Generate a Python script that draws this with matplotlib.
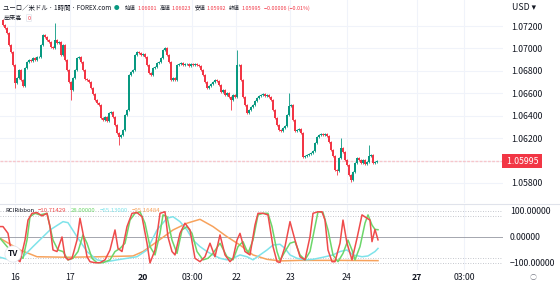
import matplotlib
matplotlib.use("Agg")
import matplotlib.pyplot as plt
import matplotlib.transforms as mtrans
import numpy as np

plt.rcParams['font.family'] = ['Noto Sans CJK JP', 'DejaVu Sans']

# ---- price data (hourly closes, EUR/USD) ----
first_open = 1.07254
closes = [
    1.07209, 1.07182, 1.07138, 1.07031, 1.06968, 1.06852, 1.06692, 1.06736, 1.06808, 1.06718,
    1.06665, 1.06825, 1.06879, 1.06897, 1.06888, 1.06915, 1.06897, 1.06923, 1.06923, 1.07031,
    1.07120, 1.07102, 1.07075, 1.07057, 1.07013, 1.07004, 1.07075, 1.07048, 1.07057, 1.06941,
    1.07031, 1.06897, 1.06808, 1.06700, 1.06629, 1.06736, 1.06808, 1.06915, 1.06923, 1.06879,
    1.06808, 1.06727, 1.06718, 1.06700, 1.06647, 1.06593, 1.06540, 1.06513, 1.06495, 1.06379,
    1.06362, 1.06388, 1.06353, 1.06424, 1.06433, 1.06388, 1.06317, 1.06246, 1.06210, 1.06228,
    1.06272, 1.06406, 1.06451, 1.06763, 1.06790, 1.06808, 1.06941, 1.06968, 1.06959, 1.06941,
    1.06950, 1.06923, 1.06852, 1.06781, 1.06763, 1.06825, 1.06834, 1.06870, 1.06879, 1.06915,
    1.06986, 1.07004, 1.06941, 1.06879, 1.06718, 1.06736, 1.06718, 1.06852, 1.06861, 1.06870,
    1.06852, 1.06861, 1.06861, 1.06843, 1.06861, 1.06852, 1.06861, 1.06852, 1.06843, 1.06808,
    1.06763, 1.06700, 1.06647, 1.06665, 1.06683, 1.06700, 1.06718, 1.06709, 1.06674, 1.06611,
    1.06629, 1.06585, 1.06602, 1.06567, 1.06540, 1.06585, 1.06567, 1.06852, 1.06852, 1.06718,
    1.06567, 1.06495, 1.06424, 1.06451, 1.06477, 1.06495, 1.06531, 1.06558, 1.06576, 1.06585,
    1.06593, 1.06576, 1.06585, 1.06567, 1.06540, 1.06451, 1.06379, 1.06317, 1.06272, 1.06263,
    1.06290, 1.06308, 1.06406, 1.06486, 1.06495, 1.06362, 1.06263, 1.06272, 1.06281, 1.06246,
    1.06032, 1.06040, 1.06049, 1.06058, 1.06067, 1.06085, 1.06156, 1.06210, 1.06228, 1.06237,
    1.06228, 1.06237, 1.06219, 1.06165, 1.06094, 1.06040, 1.05916, 1.05907, 1.06023, 1.06112,
    1.06076, 1.06005, 1.05960, 1.05871, 1.05826, 1.05898, 1.05978, 1.06023, 1.06005, 1.05978,
    1.06005, 1.05969, 1.05987, 1.06040, 1.06049, 1.05978, 1.05987, 1.05995,
]
# long wicks (bar index, price)
spike_high_idx = [26, 117, 143, 169, 183]
spike_high_val = [1.07227, 1.06986, 1.06602, 1.06200, 1.06139]
spike_low_idx = [6, 34, 58, 114, 167, 174]
spike_low_val = [1.06647, 1.06540, 1.06139, 1.06451, 1.05871, 1.05808]
last_price = "1.05995"

price_ticks = [1.058, 1.062, 1.064, 1.066, 1.068, 1.070, 1.072]
time_tick_pos = [6, 33.5, 70, 94.5, 116.5, 143.5, 172, 207, 230.5]
time_tick_lab = ["16", "17", "20", "03:00", "22", "23", "24", "27", "03:00"]
bold_labels = ["20", "27"]

# ---- RCI ribbon samples (bar index, value) ----
red_x = [-1.5, 0, 2.5, 3.5, 6, 8.5, 11, 12.5, 14.5, 17, 19.5, 22, 23.5, 25, 27, 29.5, 31, 32.5, 34.5,
         37, 38.5, 40, 42, 43.5, 46, 48.5, 51, 53.5, 56, 57.5, 59.5, 62, 64.5, 67, 69.5, 72, 73.5,
         76, 78.5, 81, 82.5, 84.5, 86, 88.5, 91, 93.5, 96, 98.5, 101, 103.5, 106, 108.5, 111,
         113.5, 115, 117, 118.5, 121, 123.5, 126, 127.5, 130, 132.5, 135, 137, 138.5, 141, 143.5,
         146, 148.5, 151, 153.5, 155, 157.5, 159.5, 161, 162.5, 164.5, 166, 168.5, 170, 172,
         174.5, 177, 179.5, 182, 183.5, 184.5, 186, 187.5]
red_v = [40, 40, 14, -30, -80, -95, -12, 65, 91, 94, 81, 91, 40, -50, -56, 0, -76, -88, -82,
         -12, 72, 14, -76, -95, -99, -99, -88, -50, 27, -44, -56, 40, 91, 94, 78, -24, -100,
         -50, 91, 97, 0, -56, -69, 14, 53, 27, -82, -95, -76, -24, -76, 8, -69,
         -95, -82, -12, 14, -56, -69, 46, 91, 91, 85, -37, -95, -98, -37, 59,
         -12, -76, -88, 1, 91, 97, 97, 65, -50, -95, -95, -24, 65, -24,
         -88, -5, 85, 72, 65, -18, 29, -11]
green_x = [-1.5, 3.5, 10, 12, 13.5, 16, 18.5, 22, 25, 27.5, 30, 32.5, 35, 37.5, 40, 42, 44.5, 47,
           50, 53.5, 56, 58.5, 61, 63.5, 66, 68.5, 71, 73.5, 76, 78.5, 80, 82, 84.5, 87, 89.5,
           92, 94.5, 97, 100, 102.5, 105, 108.5, 112, 115, 117.5, 120, 122.5, 125, 127.5, 130,
           132.5, 134.5, 137, 138.5, 141, 143.5, 146, 148.5, 151, 153.5, 156, 157.5, 160, 162.5,
           165, 167.5, 170, 172.5, 174.5, 176, 178.5, 181, 182.5, 184.5, 186, 187.5]
green_v = [-5, -50, -82, -12, 78, 91, 85, 91, -12, -50, -56, -88, -82, -56, 8, -24, -82, -99,
           -99, -88, -56, -44, -24, 65, 91, 97, 53, -37, -69, 14, 85, 78, -12, -63, 27,
           40, 14, -56, -88, -82, -63, -24, -76, -88, -37, -18, -63, -12, 85, 91,
           91, 40, -56, -90, -56, -24, -18, -69, -88, -56, 40, 97, 94, 27,
           -69, -95, -63, -12, -50, -88, -37, 53, 85, 46, 29, 28]
cyan_x = [-1.5, 3.5, 8.5, 15, 23.5, 30, 32.5, 37, 42, 47, 52, 57, 62, 67, 72, 77, 82, 85, 88.5,
          92, 95, 98.5, 102, 105, 108.5, 112, 115, 118.5, 122, 125, 128.5, 132, 135, 138.5,
          141, 143.5, 147, 151, 155, 160, 165, 168.5, 172, 175, 179.5, 182.5, 186, 187.5]
cyan_v = [-78, -88, -88, -37, 27, 59, 55, 1, -56, -88, -95, -88, -82, -76, -50, 27, 72, 78, 59,
          27, -12, -37, -56, -69, -82, -88, -82, -69, -76, -88, -69, -50, -31, -28,
          -44, -69, -82, -88, -86, -78, -69, -56, -50, -69, -76, -73, -56, -44]
orange_x = [-1.5, 8.5, 17, 32, 48.5, 65, 70, 77, 85, 92, 98.5, 105, 112, 118.5, 125, 132, 138.5,
            148.5, 168.5, 187.5]
orange_v = [-5, -50, -76, -78, -76, -73, -56, -18, 27, 53, 68, 40, 1, -31, -69, -86, -92,
            -90, -90, -91]
rci_legend = ["−10.71429", "28.00000", "−65.13000", "−95.16484"]

# ---- layout (pixels) ----
W, H = 560, 289
fig = plt.figure(figsize=(W / 100, H / 100), dpi=100)
fig.patch.set_facecolor("white")
plot_r = 503
ax1 = fig.add_axes([0, (H - 203) / H, plot_r / W, 203 / H])
ax2 = fig.add_axes([0, (H - 270) / H, plot_r / W, 65 / H])

up_c, dn_c = "#089981", "#f23645"
txt_c = "#131722"
grid_c = "#f0f3fa"
fs = 6.3

closes = np.array(closes)
opens = np.concatenate([[first_open], closes[:-1]])
idx = np.arange(len(closes))
highs = np.maximum(opens, closes) + 0.00012
lows = np.minimum(opens, closes) - 0.00012
highs[spike_high_idx] = spike_high_val
lows[spike_low_idx] = spike_low_val
cols = np.where(closes >= opens, up_c, dn_c)

xmin, xmax = -1.5, 250
for ax in (ax1, ax2):
    ax.set_xlim(xmin, xmax)
    for s in ax.spines.values():
        s.set_visible(False)
    ax.tick_params(length=0, labelsize=fs, labelcolor=txt_c)
    ax.set_xticks(time_tick_pos)
    ax.grid(True, axis="x", color=grid_c, lw=0.8)
    ax.set_axisbelow(True)

# main pane
ax1.set_ylim(1.05621, 1.07432)
ax1.vlines(idx, lows, highs, colors=cols, lw=0.6, zorder=2)
ax1.bar(idx, np.abs(closes - opens) + 0.00002, 0.85, bottom=np.minimum(opens, closes),
        color=cols, zorder=3, linewidth=0)
ax1.set_xticklabels([])
ax1.yaxis.tick_right()
ax1.set_yticks(price_ticks)
ax1.set_yticklabels(["%.5f" % p for p in price_ticks])
ax1.tick_params(axis="y", pad=6)
for p in price_ticks + [1.060]:
    ax1.axhline(p, color=grid_c, lw=0.8, zorder=0)
ax1.axhline(float(last_price), color="#f7c6cb", lw=1.0, ls=(0, (2, 1)), zorder=1)
blend = mtrans.blended_transform_factory(ax1.transAxes, ax1.transData)
ax1.text(1.003, float(last_price), " " + last_price + " ", transform=blend, ha="left", va="center",
         color="white", fontsize=fs, clip_on=False,
         bbox=dict(boxstyle="square,pad=0.25", fc=dn_c, ec="none"))

# oscillator pane
ax2.set_ylim(-127, 123)
ax2.plot(orange_x, orange_v, color="#f7a25c", lw=1.1, zorder=3)
ax2.plot(cyan_x, cyan_v, color="#7fe3ea", lw=1.1, zorder=3)
ax2.plot(green_x, green_v, color="#6cd66a", lw=1.1, zorder=4)
ax2.plot(red_x, red_v, color="#ef4b4b", lw=1.1, zorder=5)
for lv in (100, 80, -80, -100):
    ax2.axhline(lv, color="#b2b5be", lw=0.6, ls=(0, (1, 2)), zorder=1)
ax2.axhline(0, color="#9598a1", lw=0.6, zorder=1)
ax2.yaxis.tick_right()
ax2.set_yticks([100, 0, -100])
ax2.set_yticklabels(["100.00000", "0.00000", "−100.00000"])
ax2.tick_params(axis="y", pad=5)
ax2.set_xticklabels(time_tick_lab)
ax2.tick_params(axis="x", pad=2)
for t in ax2.get_xticklabels():
    if t.get_text() in bold_labels:
        t.set_fontweight("bold")

# pane separator
fig.add_artist(plt.Line2D([0, 1], [(H - 204) / H] * 2, color="#e0e3eb", lw=0.8))

# header
def px(x, y):
    return x / W, 1 - y / H

fig.text(*px(3, 8), "ユーロ／米ドル · 1時間 · FOREX.com", fontsize=4.6, color=txt_c, va="center")
fig.text(*px(117, 8), "●", fontsize=4.0, color=up_c, va="center", ha="center")
fig.canvas.draw()
r = fig.canvas.get_renderer()
xcur = 125
for lab, val in [("始値", "1.06001"), ("高値", "1.06023"), ("安値", "1.05992"), ("終値", "1.05995"),
                 (None, "−0.00006 (−0.01%)")]:
    if lab:
        t = fig.text(*px(xcur, 8), lab, fontsize=3.9, color=txt_c, va="center")
        xcur += t.get_window_extent(r).width + 1.5
    t = fig.text(*px(xcur, 8), val, fontsize=3.9, color=dn_c, va="center")
    xcur += t.get_window_extent(r).width + 3
fig.text(*px(3, 18), "出来高", fontsize=4.4, color=txt_c, va="center")
fig.text(*px(29, 18), "0", fontsize=4.0, color=dn_c, va="center", ha="center",
         bbox=dict(boxstyle="round,pad=0.2", fc="white", ec="#e0e3eb", lw=0.5))
fig.text(*px(512, 8), "USD ▾", fontsize=fs, color=txt_c, va="center")

# oscillator legend
xcur = 5
t = fig.text(*px(xcur, 210), "RCIRibbon", fontsize=4.3, color=txt_c, va="center")
xcur += t.get_window_extent(r).width + 4
for val, c in zip(rci_legend, ["#ef4b4b", "#6cd66a", "#7fe3ea", "#f7a25c"]):
    t = fig.text(*px(xcur, 210), val, fontsize=4.3, color=c, va="center")
    xcur += t.get_window_extent(r).width + 4

# logo & settings
fig.text(*px(13, 254), "TV", fontsize=6, fontweight="bold", color=txt_c, ha="center", va="center",
         bbox=dict(boxstyle="circle,pad=0.35", fc="white", ec="#e0e3eb", lw=0.5))
fig.text(*px(533, 278), "○", fontsize=5, color="#787b86", ha="center", va="center")

fig.savefig("out.png", dpi=100)
